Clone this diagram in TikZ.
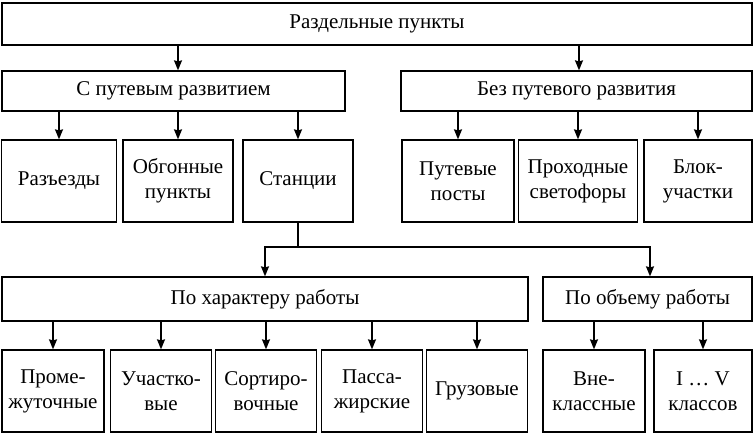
\documentclass[tikz,border=0pt]{standalone}
\usepackage{fontspec}
\setmainfont{Liberation Serif}
\usetikzlibrary{arrows.meta}

\begin{document}
\begin{tikzpicture}[x=1pt, y=-1pt, line width=1.3pt,
    box/.style={draw, rectangle, align=center, inner sep=0pt, font=\fontsize{21}{25}\selectfont},
    >={Stealth[length=10pt, width=8pt, inset=1pt]}]
                    \useasboundingbox (0,0) rectangle (756,434);
                    \node at (377,24) [box, minimum width=750pt, minimum height=42pt] (points) {Раздельные пункты};
                    \node at (173.5,91) [box, minimum width=343pt, minimum height=40pt] (with tracks) {С путевым развитием};
                    \node at (576.5,91) [box, minimum width=351pt, minimum height=40pt] (without tracks) {Без путевого развития};
                    \node at (59,181) [box, minimum width=115pt, minimum height=82pt] (sidings) {Разъезды};
                    \node at (178,181) [box, minimum width=110pt, minimum height=82pt] (passing) {Обгонные\\пункты};
                    \node at (298,181) [box, minimum width=110pt, minimum height=82pt] (stations) {Станции};
                    \node at (458,181) [box, minimum width=112pt, minimum height=82pt] (track posts) {Путевые\\посты};
                    \node at (578,181) [box, minimum width=119pt, minimum height=82pt] (signals) {Проходные\\светофоры};
                    \node at (698,181) [box, minimum width=108pt, minimum height=82pt] (block) {Блок-\\участки};
                    \node at (265,299) [box, minimum width=526pt, minimum height=44pt] (by kind) {По характеру работы};
                    \node at (647.5,299) [box, minimum width=209pt, minimum height=44pt] (by volume) {По объему работы};
                    \node at (53,391) [box, minimum width=102pt, minimum height=82pt] (intermediate) {Проме-\\жуточные};
                    \node at (161,391) [box, minimum width=101pt, minimum height=82pt] (district) {Участко-\\вые};
                    \node at (266,391) [box, minimum width=101pt, minimum height=82pt] (marshalling) {Сортиро-\\вочные};
                    \node at (372,391) [box, minimum width=101pt, minimum height=82pt] (passenger) {Пасса-\\жирские};
                    \node at (477,391) [box, minimum width=101pt, minimum height=82pt] (freight) {Грузовые};
                    \node at (594,391) [box, minimum width=102pt, minimum height=82pt] (top class) {Вне-\\классные};
                    \node at (703,391) [box, minimum width=98pt, minimum height=82pt] (classes) {I \dots\ V\\классов};
                    \draw [->] (points.south -| 178,0) -- (with tracks.north -| 178,0);
                    \draw [->] (points.south -| 579,0) -- (without tracks.north -| 579,0);
                    \draw [->] (with tracks.south -| sidings.north) -- (sidings);
                    \draw [->] (with tracks.south -| passing.north) -- (passing);
                    \draw [->] (with tracks.south -| stations.north) -- (stations);
                    \draw [->] (without tracks.south -| track posts.north) -- (track posts);
                    \draw [->] (without tracks.south -| signals.north) -- (signals);
                    \draw [->] (without tracks.south -| block.north) -- (block);
                    % stations split into two kinds of grouping
                    \coordinate (split) at (298,247);
                    \draw (stations) -- (split);
                    \draw [->] (split) -| (by kind);
                    \draw [->] (split) -| ([xshift=2.5pt]by volume.north);
                    \draw [->] (by kind.south -| intermediate.north) -- (intermediate);
                    \draw [->] (by kind.south -| district.north) -- (district);
                    \draw [->] (by kind.south -| marshalling.north) -- (marshalling);
                    \draw [->] (by kind.south -| passenger.north) -- (passenger);
                    \draw [->] (by kind.south -| freight.north) -- (freight);
                    \draw [->] (by volume.south -| top class.north) -- (top class);
                    \draw [->] (by volume.south -| classes.north) -- (classes);
                \end{tikzpicture}
\end{document}
